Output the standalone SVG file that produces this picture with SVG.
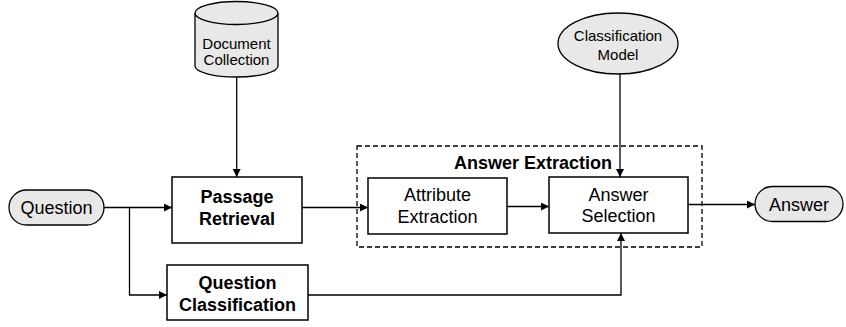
<svg xmlns="http://www.w3.org/2000/svg" width="846" height="327" viewBox="0 0 846 327">
<style>
text{font-family:"Liberation Sans",Arial,sans-serif;fill:#000;text-anchor:middle;dominant-baseline:central}
.n{font-size:18px}
.b{font-size:18px;font-weight:bold}
.s{font-size:15px}
.box{fill:#fff;stroke:#000;stroke-width:1.5}
.grey{fill:#e8e8e8;stroke:#000;stroke-width:1.3}
.c{fill:none;stroke:#000;stroke-width:1.3}
</style>
<defs>
<marker id="a" viewBox="0 0 10 10" refX="10" refY="5" markerWidth="8" markerHeight="8" markerUnits="userSpaceOnUse" orient="auto"><path d="M0,0L10,5L0,10z" fill="#000"/></marker>
</defs>
<rect width="846" height="327" fill="#fff"/>
<g id="answer-extraction-group">
<rect x="357" y="146" width="345" height="101" fill="none" stroke="#000" stroke-width="1.3" stroke-dasharray="5,3"/>
<text class="b" x="533" y="163">Answer Extraction</text>
</g>
<g id="connectors">
<path class="c" d="M236.7,77V177" marker-end="url(#a)"/>
<path class="c" d="M104,207.5H172" marker-end="url(#a)"/>
<path class="c" d="M129.5,207.5V295H167" marker-end="url(#a)"/>
<path class="c" d="M302,207.5H368" marker-end="url(#a)"/>
<path class="c" d="M507,206.5H549" marker-end="url(#a)"/>
<path class="c" d="M620,74V177" marker-end="url(#a)"/>
<path class="c" d="M308,295H621V233" marker-end="url(#a)"/>
<path class="c" d="M688,204.5H755" marker-end="url(#a)"/>
</g>
<g id="document-collection">
<path class="grey" d="M195,13V66A41.5,11 0 0 0 278,66V13"/>
<ellipse class="grey" cx="236.5" cy="13" rx="41.5" ry="11.5"/>
<text class="s" x="236.5" y="43">Document</text>
<text class="s" x="236.5" y="59">Collection</text>
</g>
<g id="classification-model">
<ellipse class="grey" cx="618" cy="43.5" rx="60" ry="30.5"/>
<text class="s" x="618" y="35">Classification</text>
<text class="s" x="618" y="54">Model</text>
</g>
<g id="question">
<rect class="grey" x="9" y="190" width="95" height="35" rx="17.5"/>
<text class="n" x="56.5" y="207.5">Question</text>
</g>
<g id="passage-retrieval">
<rect class="box" x="172" y="177" width="130" height="66"/>
<text class="b" x="237" y="197">Passage</text>
<text class="b" x="237" y="219">Retrieval</text>
</g>
<g id="question-classification">
<rect class="box" x="167" y="265" width="141" height="55"/>
<text class="b" x="237.5" y="283">Question</text>
<text class="b" x="237.5" y="305">Classification</text>
</g>
<g id="attribute-extraction">
<rect class="box" x="368" y="178" width="139" height="56"/>
<text class="n" x="437.5" y="195">Attribute</text>
<text class="n" x="437.5" y="217">Extraction</text>
</g>
<g id="answer-selection">
<rect class="box" x="549" y="177" width="139" height="56"/>
<text class="n" x="618.5" y="195">Answer</text>
<text class="n" x="618.5" y="216">Selection</text>
</g>
<g id="answer">
<rect class="grey" x="755" y="186.5" width="88" height="35" rx="17.5"/>
<text class="n" x="799" y="204.5">Answer</text>
</g>
</svg>
